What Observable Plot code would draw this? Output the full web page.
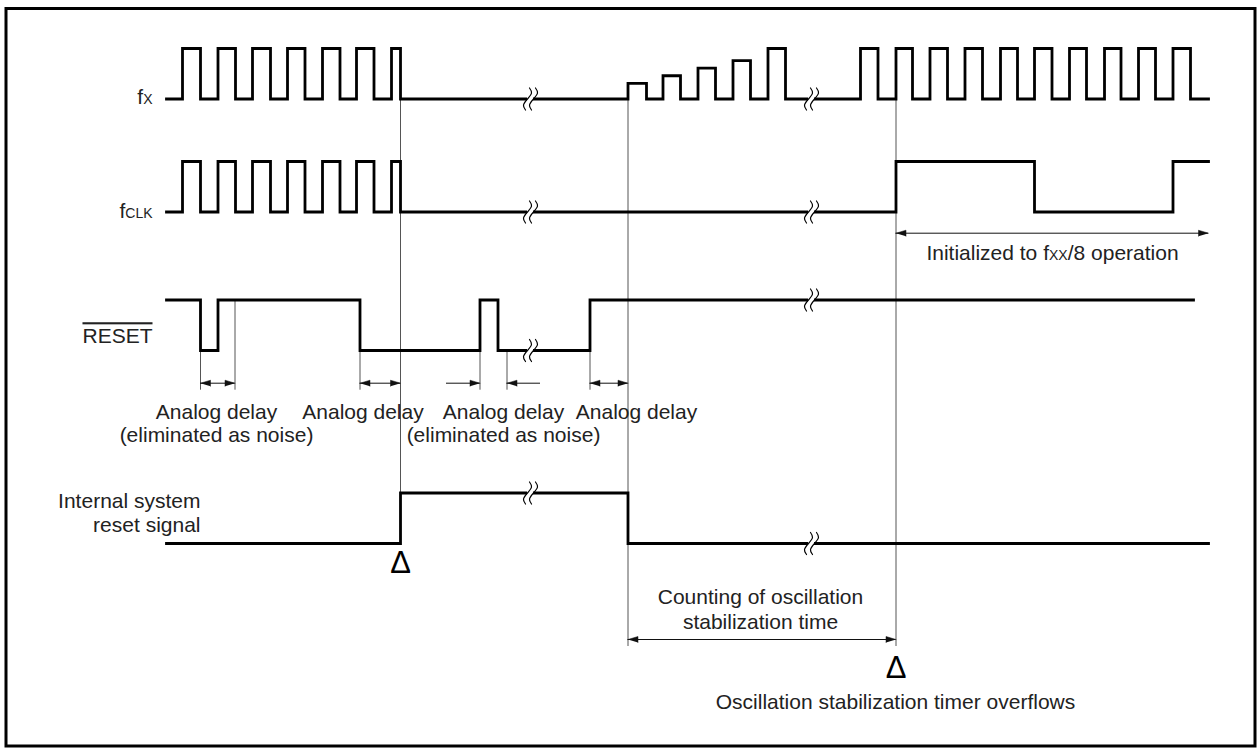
<!DOCTYPE html>
<html>
<head>
<meta charset="utf-8">
<script src="https://cdn.jsdelivr.net/npm/d3@7"></script>
<script src="https://cdn.jsdelivr.net/npm/@observablehq/plot@0.6"></script>
<style>
  html, body { margin: 0; padding: 0; background: #fff; }
  #chart svg { display: block; }
</style>
</head>
<body>
<div id="chart"></div>
<script>
// ---------------- DATA (time units along the diagram, levels 0 = low, 1 = high) ----------------
const fxWave = [[166,0],[182,1],[200,0],[217.5,1],[235,0],[252,1],[270,0],[287,1],[304.5,0],[322,1],[339.5,0],[356,1],[373.5,0],[391,1],[400,0],
  [627.5,0.31],[646,0],[662.5,0.46],[680,0],[697.5,0.61],[715,0],[732.5,0.76],[750,0],[767.5,1],[785,0],
  [860,1],[877.5,0],[895.5,1],[912,0],[929.5,1],[947,0],[964.5,1],[982,0],[1000,1],[1017,0],[1034,1],[1051.5,0],[1069,1],[1086,0],[1104,1],[1120.5,0],[1138,1],[1155,0],[1172.5,1],[1190,0],[1208,0]];
const fclkWave = [[166,0],[182,1],[200,0],[217.5,1],[235,0],[252,1],[270,0],[287,1],[304.5,0],[322,1],[339.5,0],[356,1],[373.5,0],[391,1],[400,0],
  [895.5,1],[1034,0],[1172.5,1],[1208,1]];
const resetWave = [[166,1],[200,0],[217.5,1],[359.5,0],[479.5,1],[497.5,0],[589.5,1],[1193,1]];
const internalWave = [[166,0],[400,1],[627.5,0],[1208,0]];

const signalNames = ["fx", "fclk", "reset", "internal"];
const signalLabels = ["f{X}", "f{CLK}", "RESET"];
const internalLabel = ["Internal system", "reset signal"];
const breakTimes = [530, 811];
const breakLevels = {fx: [0, 0], fclk: [0, 0], reset: [0, 1], internal: [1, 0]};

const delayArrowFrom = [200, 359.5, 446, 540, 589.5];
const delayArrowTo   = [234.5, 400, 479.5, 506.5, 627.5];
const delayArrowBoth = [true, true, false, false, true];
const delayLabelT = [216, 362.5, 503, 636];
const delayLabelNoise = [true, false, true, false];

const resetTimes = [400, 627.5, 895.5];     // internal reset rise, fall, timer overflow
const initRange = [895.5, 1208];

// ---------------- LAYOUT ----------------
const W = 1260, H = 748;
const rowY = {fx: 98.5, fclk: 211.5, reset: 350, internal: 543};
const amp = 50.5;
const yOf = (row, level) => rowY[row] - level * amp;
const delayArrowY = 382.7;
const countArrowY = 639;
const initArrowY = 232.7;
const ink = "#111", textInk = "#222", guideInk = "#555";
const FS = 21;

const waves = {fx: fxWave, fclk: fclkWave, reset: resetWave, internal: internalWave};
const waveData = signalNames.flatMap(name => waves[name].map(([t, level]) => ({name, t, level})));

// guides (thin vertical reference lines)
const guides = [
  {t: resetTimes[0], y1: yOf("fx", 0), y2: yOf("internal", 1)},
  {t: resetTimes[1], y1: yOf("fx", 0), y2: yOf("internal", 1)},
  {t: resetTimes[1], y1: yOf("internal", 0), y2: countArrowY + 7},
  {t: resetTimes[2], y1: yOf("fx", 0), y2: countArrowY + 7},
  {t: delayArrowTo[0], y1: yOf("reset", 1), y2: delayArrowY + 7},
  ...[200, 359.5, 479.5, 506.5, 589.5].map(t => ({t, y1: yOf("reset", 0), y2: delayArrowY + 7}))
];

// break marks
const breaks = signalNames.flatMap(name => breakTimes.map((t, i) => ({name, t, y: yOf(name, breakLevels[name][i])})));
const sShape = [[2,-11],[4,-6],[0,0],[-4,6],[-2,11]];
const breakStrokes = breaks.flatMap((b, i) => [-3, 3].flatMap(dx =>
  sShape.map(([ox, oy]) => ({id: `${i}_${dx}`, x: b.t + dx + ox, y: b.y + oy}))));

// arrows
const arrows = [
  ...delayArrowFrom.map((a, i) => ({a, b: delayArrowTo[i], y: delayArrowY, both: delayArrowBoth[i]})),
  {a: resetTimes[1], b: resetTimes[2], y: countArrowY, both: true},
  {a: initRange[0], b: initRange[1], y: initArrowY, both: true}
];
const headLen = 10, headHalf = 3;
const heads = [];
arrows.forEach((ar, i) => {
  const tips = ar.both ? [[ar.b, ar.a], [ar.a, ar.b]] : [[ar.b, ar.a]];
  tips.forEach(([tip, from], k) => {
    const dir = Math.sign(tip - from);
    const id = `${i}_${k}`;
    heads.push({id, x: tip, y: ar.y}, {id, x: tip - dir * headLen, y: ar.y - headHalf}, {id, x: tip - dir * headLen, y: ar.y + headHalf});
  });
});

// texts
const rightTexts = [
  ...signalLabels.map((text, i) => ({text, x: 152, y: [96.5, 211, 336][i]})),
  {text: internalLabel[0], x: 200, y: 500.6},
  {text: internalLabel[1], x: 200, y: 525}
];
const centerTexts = [
  ...delayLabelT.map(t => ({text: "Analog delay", x: t, y: 411.3})),
  ...delayLabelT.filter((t, i) => delayLabelNoise[i]).map(t => ({text: "(eliminated as noise)", x: t, y: 435})),
  {text: "Counting of oscillation", x: 760, y: 596.6},
  {text: "stabilization time", x: 760, y: 621.6},
  {text: "Oscillation stabilization timer overflows", x: 895, y: 701.6},
  {text: "Initialized to f{XX}/8 operation", x: 1052, y: 252.6}
];
const deltas = [{x: resetTimes[0], y: 562.8}, {x: resetTimes[2], y: 668}];

const chart = Plot.plot({
  width: W, height: H,
  marginTop: 8, marginLeft: 5.5, marginRight: 5.5, marginBottom: 2.5,
  x: {domain: [0, W], range: [0, W], axis: null},
  y: {domain: [0, H], range: [0, H], axis: null},
  style: {fontFamily: "'Liberation Sans', Arial, Helvetica, sans-serif", background: "#fff", overflow: "visible"},
  marks: [
    Plot.frame({stroke: "#000", strokeWidth: 3}),
    Plot.ruleX(guides, {x: "t", y1: "y1", y2: "y2", stroke: guideInk, strokeWidth: 1}),
    Plot.line(waveData, {x: "t", y: d => yOf(d.name, d.level), z: "name", curve: "step-after",
      stroke: "#000", strokeWidth: 2.8, strokeLinejoin: "miter", strokeLinecap: "square", strokeMiterlimit: 4}),
    Plot.ruleY(breaks, {y: "y", x1: d => d.t - 3, x2: d => d.t + 3, stroke: "#fff", strokeWidth: 6}),
    Plot.line(breakStrokes, {x: "x", y: "y", z: "id", curve: "natural", stroke: "#000", strokeWidth: 1.2}),
    Plot.ruleY(arrows, {y: "y", x1: "a", x2: "b", stroke: ink, strokeWidth: 1}),
    Plot.line(heads, {x: "x", y: "y", z: "id", fill: ink, stroke: ink, strokeWidth: 0.5}),
    Plot.text(deltas, {x: "x", y: "y", text: () => "Δ", fontSize: 31, fill: "#000", textAnchor: "middle"}),
    Plot.text(rightTexts, {x: "x", y: "y", text: "text", textAnchor: "end", fontSize: FS, fill: textInk}),
    Plot.text(centerTexts, {x: "x", y: "y", text: "text", textAnchor: "middle", fontSize: FS, fill: textInk})
  ]
});

// rich text: {…} => small capitals (subscript style), RESET => overline
d3.select(chart).selectAll("text").each(function () {
  const s = this.textContent;
  if (s === "RESET") { this.setAttribute("text-decoration", "overline"); return; }
  if (!s.includes("{")) return;
  const parts = s.split(/(\{[^}]*\})/).filter(p => p.length);
  this.textContent = "";
  parts.forEach(p => {
    const ts = document.createElementNS("http://www.w3.org/2000/svg", "tspan");
    if (p.startsWith("{")) { ts.textContent = p.slice(1, -1); ts.setAttribute("font-size", 14); }
    else ts.textContent = p;
    this.appendChild(ts);
  });
});
document.getElementById("chart").appendChild(chart);
</script>
</body>
</html>
